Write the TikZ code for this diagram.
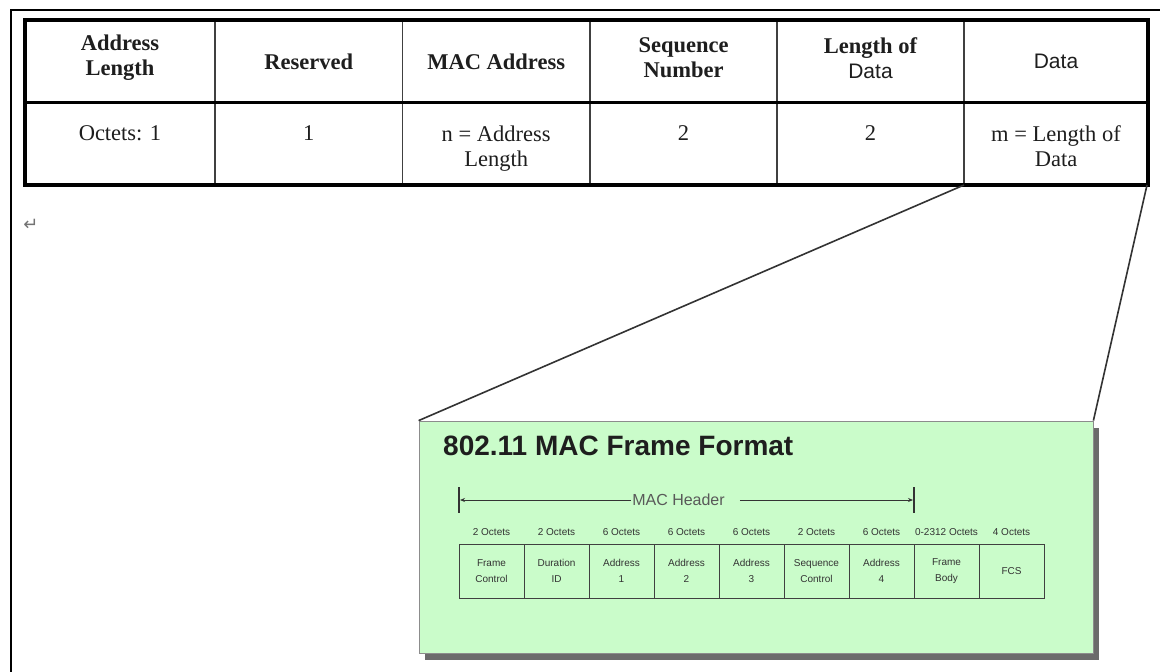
\documentclass[tikz,border=0pt]{standalone}
\usepackage{fontspec}
\setmainfont{Liberation Serif}
\newfontfamily\sansf{Liberation Sans}
\newfontfamily\djv{DejaVu Sans}
\usetikzlibrary{arrows.meta}
\definecolor{macgreen}{RGB}{202,252,202}
\definecolor{inkc}{RGB}{30,30,30}
\tikzset{
  hcell/.style={align=center,font=\fontsize{22.5}{25}\selectfont\bfseries,text=inkc,inner sep=0pt},
  bcell/.style={align=center,font=\fontsize{22.5}{25}\selectfont,text=inkc,inner sep=0pt,anchor=north},
  fcell/.style={draw=black!75,line width=0.9pt,minimum width=65,minimum height=54,inner sep=0pt,align=center,
     font=\sansf\fontsize{10}{16}\selectfont,text=black!80},
  olabel/.style={font=\sansf\fontsize{10}{10}\selectfont,text=black!80,inner sep=0pt},
  link/.style={draw=black!80,line width=1.6pt},
}
\begin{document}
\begin{tikzpicture}[x=1pt,y=-1pt]
\useasboundingbox (0,0) rectangle (1160,672);
\fill[white] (0,0) rectangle (1160,672);
% outer page frame
\draw[line width=2.2pt,black] (11,672) -- (11,10) -- (1160,10);
% table grid
\foreach \x in {215,402.5,590,777,964}
  \draw[black!75,line width=1.1pt] (\x,20) -- (\x,185);
\draw[black,line width=3pt] (25,102) -- (1148,102);
\draw[black,line width=4pt] (25,20) rectangle (1148,185);
% header texts
\node[hcell] (h1) at (120,58) {Address\\Length};
\node[hcell] (h2) at (308.7,61.5) {Reserved};
\node[hcell] (h3) at (496.2,61.5) {MAC Address};
\node[hcell] (h4) at (683.5,58) {Sequence\\Number};
\node[hcell] (h5) at (870.5,58) {Length of\\{\sansf\mdseries\fontsize{21}{25}\selectfont Data}};
\node[hcell] (h6) at (1056,61.5) {\sansf\mdseries\fontsize{21}{25}\selectfont Data};
% body texts
\node[bcell] (b1) at (120,125.5) {Octets: 1};
\node[bcell] (b2) at (308.7,125.5) {1};
\node[bcell] (b3) at (496.2,125.5) {n = Address\\Length};
\node[bcell] (b4) at (683.5,125.5) {2};
\node[bcell] (b5) at (870.5,125.5) {2};
\node[bcell] (b6) at (1056,125.5) {m = Length of\\Data};
\coordinate (dsw) at (964,185);
\coordinate (dse) at (1147,185);
% paragraph mark
\node[font=\djv\fontsize{18}{18}\selectfont,text=black!55,inner sep=0pt] (pm) at (31,225) {↵};
% green box with shadow
\fill[black!58] (425,428) rectangle (1099,660);
\node[fill=macgreen,draw=black!45,line width=0.8pt,minimum width=674,minimum height=232,inner sep=0pt] (mac) at (756,537) {};
\draw[link] (dsw) -- (mac.north west);
\draw[link] (dse) -- (mac.north east);
% title
\node[anchor=west,font=\sansf\bfseries\fontsize{28}{28}\selectfont,text=inkc,inner sep=0pt] (title) at (443,446) {802.11 MAC Frame Format};
% MAC header arrow
\coordinate (lb) at (460,500);
\coordinate (rb) at (913,500);
\draw[black!80,line width=1.4pt] (459,487) -- (459,513);
\draw[black!80,line width=1.4pt] (914,487) -- (914,513);
\node[font=\sansf\fontsize{16}{16}\selectfont,text=black!65,inner sep=1pt] (mh) at (678.5,500) {MAC Header};
\draw[black!80,line width=0.8pt,-{Stealth[length=5pt,width=4pt]}] (mh.west) -- (lb);
\draw[black!80,line width=0.8pt,-{Stealth[length=5pt,width=4pt]}] ([xshift=14pt]mh.east) -- (rb);
% frame fields
\node[fcell] (f1) at (491.5,571) {Frame\\Control};
\node[fcell] (f2) at (556.5,571) {Duration\\ID};
\node[fcell] (f3) at (621.5,571) {Address\\1};
\node[fcell] (f4) at (686.5,571) {Address\\2};
\node[fcell] (f5) at (751.5,571) {Address\\3};
\node[fcell] (f6) at (816.5,571) {Sequence\\Control};
\node[fcell] (f7) at (881.5,571) {Address\\4};
\node[fcell] (f8) at (946.5,571) {Frame\\Body};
\node[fcell] (f9) at (1011.5,571) {FCS};
\node[olabel] (o1) at (491.5,532) {2 Octets};
\node[olabel] (o2) at (556.5,532) {2 Octets};
\node[olabel] (o3) at (621.5,532) {6 Octets};
\node[olabel] (o4) at (686.5,532) {6 Octets};
\node[olabel] (o5) at (751.5,532) {6 Octets};
\node[olabel] (o6) at (816.5,532) {2 Octets};
\node[olabel] (o7) at (881.5,532) {6 Octets};
\node[olabel] (o8) at (946.5,532) {0-2312 Octets};
\node[olabel] (o9) at (1011.5,532) {4 Octets};
\end{tikzpicture}
\end{document}
